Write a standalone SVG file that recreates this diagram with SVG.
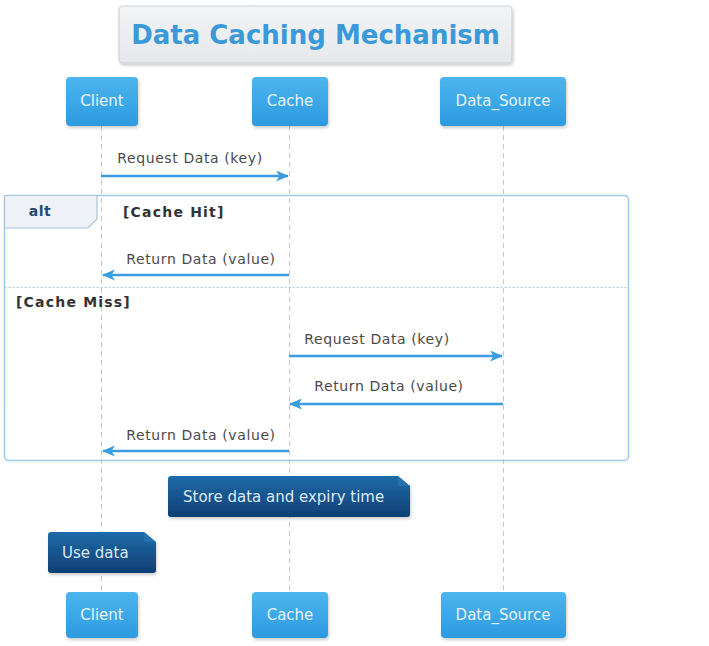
<svg xmlns="http://www.w3.org/2000/svg" width="709" height="646" viewBox="0 0 709 646">
<defs>
<linearGradient id="pg" x1="0" y1="0" x2="0" y2="1">
<stop offset="0" stop-color="#4db5ee"/>
<stop offset="1" stop-color="#2c9ae0"/>
</linearGradient>
<linearGradient id="ng" x1="0" y1="0" x2="0" y2="1">
<stop offset="0" stop-color="#1f6aa8"/>
<stop offset="1" stop-color="#0f3f74"/>
</linearGradient>
<linearGradient id="tg" x1="0" y1="0" x2="0" y2="1">
<stop offset="0" stop-color="#f3f4f6"/>
<stop offset="1" stop-color="#e6e8eb"/>
</linearGradient>
<marker id="ah" markerWidth="13" markerHeight="11" refX="12" refY="5.5" orient="auto" markerUnits="userSpaceOnUse">
<path d="M0,0 L13,5.5 L0,11 L3.5,5.5 Z" fill="#3a9de0"/>
</marker>
<filter id="sh" x="-10%" y="-10%" width="130%" height="140%">
<feDropShadow dx="1" dy="2" stdDeviation="1.5" flood-color="#000" flood-opacity="0.2"/>
</filter>
</defs>
<style>
.pbox{fill:url(#pg);filter:url(#sh);}
.ptxt{font-family:"DejaVu Sans",sans-serif;font-size:15px;fill:#e8f4fc;text-anchor:middle;}
.life{stroke:#c8c8c8;stroke-width:1;stroke-dasharray:5,4;fill:none;}
.msg{stroke:#3a9de0;stroke-width:2.5;fill:none;marker-end:url(#ah);}
.mtxt{font-family:"DejaVu Sans",sans-serif;font-size:14px;letter-spacing:0.6px;fill:#4a4a4a;text-anchor:middle;}
.guard{font-family:"DejaVu Sans",sans-serif;font-size:14px;letter-spacing:1.2px;font-weight:bold;fill:#333;}
.note{fill:url(#ng);filter:url(#sh);}
.ntxt{font-family:"DejaVu Sans",sans-serif;font-size:15px;fill:#dde9f5;}
</style>
<rect width="709" height="646" fill="#ffffff"/>
<g id="title">
<rect x="119" y="6" width="393" height="57" rx="4" fill="url(#tg)" stroke="#cfd3d8" stroke-width="1.2" filter="url(#sh)"/>
<text x="315.5" y="44" font-family="DejaVu Sans, sans-serif" font-size="26" font-weight="bold" fill="#3a9ad9" text-anchor="middle">Data Caching Mechanism</text>
</g>
<g id="lifelines">
<line class="life" x1="101.5" y1="126" x2="101.5" y2="592"/>
<line class="life" x1="289.5" y1="126" x2="289.5" y2="592"/>
<line class="life" x1="503.5" y1="126" x2="503.5" y2="592"/>
</g>
<g id="alt">
<rect x="4.5" y="195.5" width="624" height="265" rx="4" fill="none" stroke="#9ccbec" stroke-width="1.5"/>
<path d="M4.5,195.5 H97 V219 L88,228 H4.5 Z" fill="#eef2f6" stroke="#a9c3d8" stroke-width="1.2"/>
<text x="40" y="216" font-family="DejaVu Sans, sans-serif" font-size="14" font-weight="bold" letter-spacing="0.5" fill="#234a72" text-anchor="middle">alt</text>
<text class="guard" x="123" y="217">[Cache Hit]</text>
<line x1="4.5" y1="287.5" x2="628.5" y2="287.5" stroke="#a9c8e0" stroke-width="1" stroke-dasharray="2,2"/>
<text class="guard" x="16" y="307">[Cache Miss]</text>
</g>
<g id="connectors">
<line class="msg" x1="101" y1="176" x2="288" y2="176"/>
<text class="mtxt" x="190" y="163">Request Data (key)</text>
<line class="msg" x1="289" y1="275" x2="103" y2="275"/>
<text class="mtxt" x="201" y="264">Return Data (value)</text>
<line class="msg" x1="289" y1="356" x2="502" y2="356"/>
<text class="mtxt" x="377" y="344">Request Data (key)</text>
<line class="msg" x1="503" y1="404" x2="290" y2="404"/>
<text class="mtxt" x="389" y="391">Return Data (value)</text>
<line class="msg" x1="289" y1="451" x2="103" y2="451"/>
<text class="mtxt" x="201" y="440">Return Data (value)</text>
</g>
<g id="note_store">
<path class="note" d="M168,479 Q168,476 171,476 H398 L410,486 V514 Q410,517 407,517 H171 Q168,517 168,514 Z"/>
<path d="M398,476 V486 H410" fill="#2b79b8" opacity="0.6"/>
<text class="ntxt" x="183" y="502">Store data and expiry time</text>
</g>
<g id="note_use">
<path class="note" d="M48,535 Q48,532 51,532 H144 L156,542 V570 Q156,573 153,573 H51 Q48,573 48,570 Z"/>
<path d="M144,532 V542 H156" fill="#2b79b8" opacity="0.6"/>
<text class="ntxt" x="62" y="558">Use data</text>
</g>
<g id="p_client_top">
<rect class="pbox" x="66" y="77" width="72" height="49" rx="4"/>
<text class="ptxt" x="102" y="106">Client</text>
</g>
<g id="p_cache_top">
<rect class="pbox" x="252" y="77" width="76" height="49" rx="4"/>
<text class="ptxt" x="290" y="106">Cache</text>
</g>
<g id="p_source_top">
<rect class="pbox" x="440" y="77" width="126" height="49" rx="4"/>
<text class="ptxt" x="503" y="106">Data_Source</text>
</g>
<g id="p_client_bottom">
<rect class="pbox" x="66" y="592" width="72" height="46" rx="4"/>
<text class="ptxt" x="102" y="620">Client</text>
</g>
<g id="p_cache_bottom">
<rect class="pbox" x="252" y="592" width="76" height="46" rx="4"/>
<text class="ptxt" x="290" y="620">Cache</text>
</g>
<g id="p_source_bottom">
<rect class="pbox" x="441" y="592" width="125" height="46" rx="4"/>
<text class="ptxt" x="503" y="620">Data_Source</text>
</g>
</svg>
